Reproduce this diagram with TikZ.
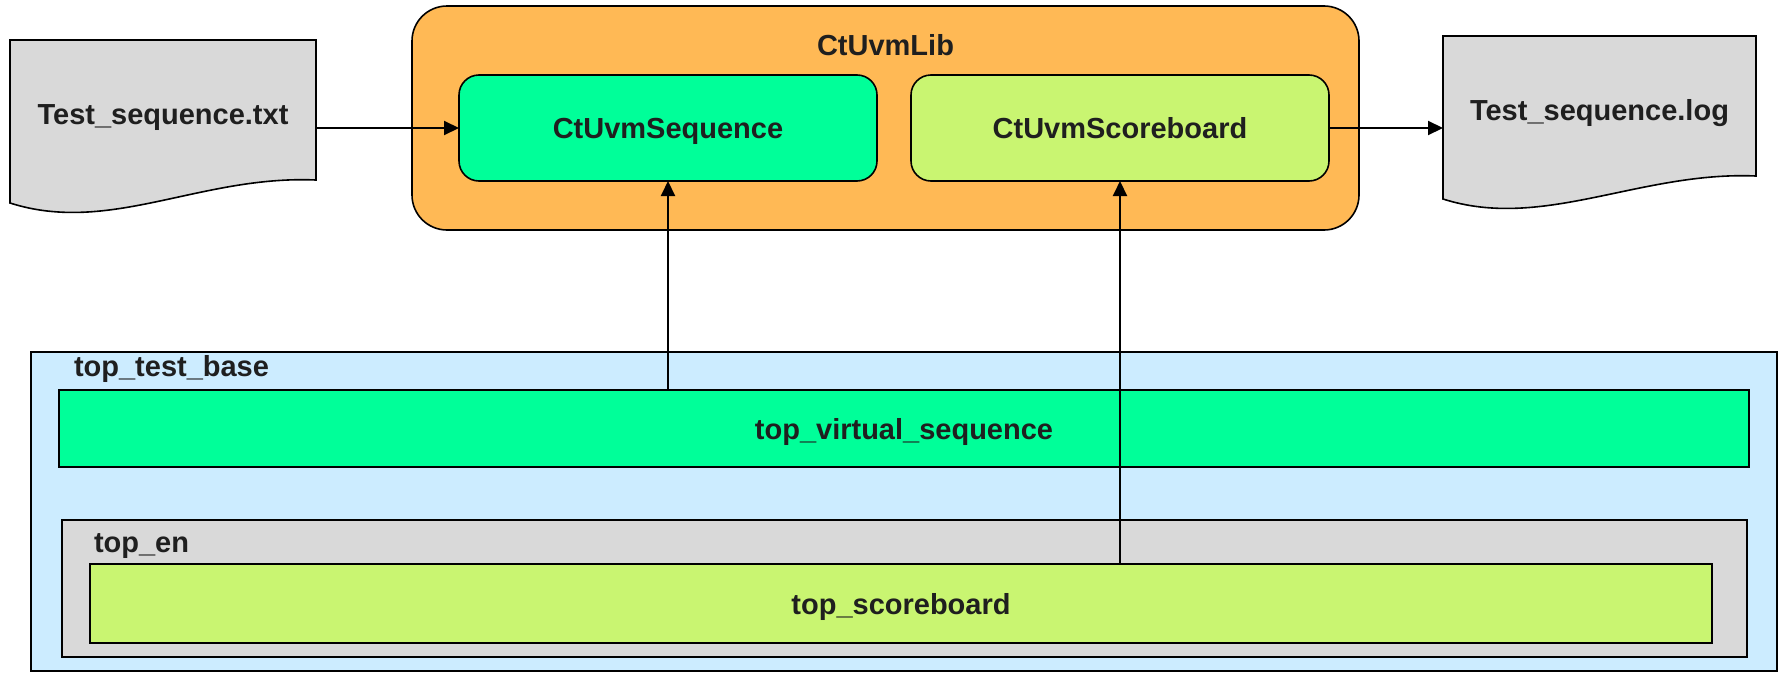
\documentclass[tikz,border=0pt]{standalone}
\usepackage{fontspec}
\setmainfont{Liberation Sans}
\usetikzlibrary{arrows.meta,positioning,backgrounds}

\definecolor{libcolor}{HTML}{FFB955}
\definecolor{seqcolor}{HTML}{00FF99}
\definecolor{scbcolor}{HTML}{C9F571}
\definecolor{basecolor}{HTML}{CCECFF}
\definecolor{filecolor}{HTML}{D9D9D9}

% document outline with a wavy lower edge, drawn round a node
\newcommand\docshape[1]{%
  \draw[fill=filecolor, line width=1.6pt]
    (#1.north west) -- (#1.north east) -- (#1.south east)
    .. controls ([xshift=-116pt,yshift=5pt]#1.south east)
       and ([xshift=100pt,yshift=-55pt]#1.south west)
    .. ([yshift=-23pt]#1.south west) -- cycle;}

\begin{document}
\begin{tikzpicture}[x=1pt, y=-1pt,
  every node/.style={font=\fontsize{29}{34}\selectfont\bfseries, text=black!88,
    inner sep=0pt, outer sep=0pt},
  block/.style={draw, line width=1.6pt, text height=21pt, text depth=0pt},
  roundblock/.style={block, rounded corners=20pt},
  filebox/.style={minimum width=#1, minimum height=140pt, text height=29pt, text depth=0pt},
  title/.style={text height=21pt, text depth=0pt},
  link/.style={line width=2pt, -{Triangle[length=15pt,width=14pt]}}]

  \useasboundingbox (0,0) rectangle (1783,672);

  % Input and output files
  \node[filebox=306pt] (txt) at (163,110) {Test\_sequence.txt};
  \node[filebox=313pt] (log) at (1599.5,106) {Test\_sequence.log};
  \begin{scope}[on background layer]
    \docshape{txt}
    \docshape{log}
  \end{scope}

  % The library
  \node[block, rounded corners=35pt, fill=libcolor, minimum width=947pt, minimum height=224pt] (lib) at (885.5,118) {};
  \node[title, below=28pt of lib.north] (libtitle) {CtUvmLib};
  \node[roundblock, fill=seqcolor, minimum width=418pt, minimum height=106pt] (seq) at (668,128) {CtUvmSequence};
  \node[roundblock, fill=scbcolor, minimum width=418pt, minimum height=106pt] (scb) at (1120,128) {CtUvmScoreboard};

  % The test bench
  \node[block, fill=basecolor, minimum width=1746pt, minimum height=319pt] (base) at (904,511.5) {};
  \node[title, below right=3pt and 43pt of base.north west] (basetitle) {top\_test\_base};
  \node[block, fill=seqcolor, minimum width=1690pt, minimum height=77pt] (vseq) at (904,428.5) {top\_virtual\_sequence};
  \node[block, fill=filecolor, minimum width=1685pt, minimum height=137pt] (en) at (904.5,588.5) {};
  \node[title, below right=11pt and 32pt of en.north west] (entitle) {top\_en};
  \node[block, fill=scbcolor, minimum width=1622pt, minimum height=79pt] (tsb) at (901,603.5) {top\_scoreboard};

  % Connections
  \draw[link] (txt.east |- seq.west) -- (seq.west);
  \draw[link] (scb.east) -- (scb.east -| log.west);
  \draw[link] (vseq.north -| seq.south) -- (seq.south);
  \draw[link] (tsb.north -| scb.south) -- (scb.south);

\end{tikzpicture}
\end{document}
